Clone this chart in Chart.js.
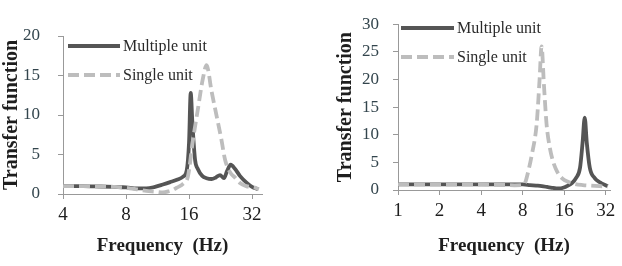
<!DOCTYPE html>
<html><head><meta charset="utf-8">
<script src="https://cdn.jsdelivr.net/npm/chart.js@4"></script>
<style>
html,body{margin:0;padding:0;background:#fff;}
#wrap{position:relative;width:622px;height:266px;overflow:hidden;background:#fff;}
canvas{position:absolute;top:0;}
</style></head><body>
<div id="wrap">
<canvas id="c1" width="311" height="266" style="left:0px"></canvas>
<canvas id="c2" width="311" height="266" style="left:311px"></canvas>
</div>
<script>
// ---- data ----
const seriesNames = ['Multiple unit', 'Single unit'];
const xTitle = 'Frequency  (Hz)';
const yTitle = 'Transfer function';

// left panel
const leftXTicks = [4, 8, 16, 32];
const leftMultiF = [4, 5, 6, 7, 8, 9, 10, 11, 12, 13, 14, 15, 15.6, 16.0, 16.3, 16.6, 17.1, 17.6, 18.5, 19.4, 20.5, 21.5, 22.5, 23.5, 24.3, 25.3, 26.5, 28, 30.2, 32, 34.2];
const leftMultiV = [1.0, 1.0, 0.95, 0.9, 0.85, 0.7, 0.7, 0.9, 1.2, 1.5, 1.8, 2.2, 3.0, 6.5, 12.8, 9.0, 4.3, 3.2, 2.3, 2.0, 1.9, 2.1, 2.4, 2.0, 2.9, 3.7, 3.2, 2.3, 1.4, 0.9, 0.6];
const leftSingleF = [4, 5, 6, 7, 8, 9, 10, 11, 12, 13, 13.4, 14, 15, 15.8, 16.7, 17.7, 18.6, 19.4, 20.5, 21.7, 22.8, 23.8, 25.2, 26.5, 28, 30, 33, 34.5];
const leftSingleV = [1.0, 1.0, 0.95, 0.9, 0.8, 0.6, 0.4, 0.3, 0.2, 0.4, 0.5, 0.8, 1.3, 2.2, 6.8, 11, 14.5, 16.3, 13, 9.8, 7, 4.3, 2.7, 2.1, 1.4, 1.0, 0.8, 0.6];

// right panel
const rightXTicks = [1, 2, 4, 8, 16, 32];
const rightMultiF = [1, 1.5, 2, 3, 4, 5, 6, 7, 8, 9, 10, 11, 12, 13, 14, 15, 16.1, 17, 18.1, 19.5, 20.8, 21.7, 22.5, 23.3, 24.5, 26.5, 29, 33];
const rightMultiV = [1.0, 1.0, 1.0, 1.0, 1.0, 1.0, 1.0, 1.0, 1.0, 0.9, 0.8, 0.7, 0.55, 0.4, 0.3, 0.3, 0.5, 0.8, 1.2, 2.2, 4.0, 8.5, 13.1, 8.5, 4.0, 2.2, 1.4, 0.7];
const rightSingleF = [1, 1.5, 2, 3, 4, 5, 6, 7, 8, 8.3, 8.8, 9.3, 10.1, 10.6, 10.96, 11.4, 11.9, 12.5, 13.3, 14.3, 15.6, 17, 19, 21.8, 25, 29, 33];
const rightSingleV = [1.0, 1.0, 1.0, 1.0, 1.0, 0.95, 0.9, 0.85, 0.9, 1.2, 3.5, 6.3, 12, 20, 26, 19, 12, 8, 5.1, 3.2, 2.0, 1.5, 1.1, 0.9, 0.8, 0.7, 0.6];

// ---- rendering ----
const SERIF = "'Liberation Serif', 'Times New Roman', serif";
const pts = (f, v) => f.map((x, i) => ({x: x, y: v[i]}));

const inlineLegend = {
  id: 'inlineLegend',
  afterDraw(chart, args, opts) {
    const ctx = chart.ctx;
    chart.data.datasets.forEach((ds, i) => {
      const y = opts.y + i * opts.gap;
      ctx.save();
      ctx.strokeStyle = ds.borderColor;
      ctx.lineWidth = ds.borderWidth;
      ctx.setLineDash(ds.borderDash || []);
      ctx.beginPath();
      ctx.moveTo(opts.x, y);
      ctx.lineTo(opts.x + opts.len, y);
      ctx.stroke();
      ctx.setLineDash([]);
      ctx.fillStyle = '#2a2a2a';
      ctx.font = opts.font;
      ctx.textBaseline = 'middle';
      ctx.fillText(ds.label, opts.x + opts.len + 3, y + 1);
      ctx.restore();
    });
  }
};

function makeChart(id, cfg) {
  return new Chart(document.getElementById(id), {
    type: 'line',
    data: {
      datasets: [
        {label: seriesNames[0], data: pts(cfg.mf, cfg.mv), borderColor: '#555555', borderWidth: 3.8,
         pointRadius: 0, cubicInterpolationMode: 'monotone', order: 2, fill: false},
        {label: seriesNames[1], data: pts(cfg.sf, cfg.sv), borderColor: '#bdbdbd', borderWidth: 3.8,
         borderDash: [11, 5], pointRadius: 0, cubicInterpolationMode: 'monotone', order: 1, fill: false}
      ]
    },
    options: {
      responsive: false, animation: false, devicePixelRatio: 1,
      layout: {padding: cfg.pad},
      plugins: {legend: {display: false}, tooltip: {enabled: false},
        inlineLegend: cfg.legend},
      scales: {
        x: {
          type: 'logarithmic', min: cfg.xmin, max: cfg.xmax,
          afterBuildTicks: s => { s.ticks = cfg.xticks.map(v => ({value: v})); },
          afterFit: s => { s.height = cfg.xh; },
          ticks: {callback: v => String(v), color: '#1e1e1e', padding: 5, maxRotation: 0, autoSkip: false,
                  font: {family: SERIF, size: 19}},
          grid: {display: true, drawOnChartArea: false, drawTicks: true, tickLength: 5, color: '#999'},
          border: {display: true, color: '#999'},
          title: {display: true, text: xTitle, color: '#1e1e1e', padding: {top: 0, bottom: 9},
                  font: {family: SERIF, size: 19, weight: 'bold'}}
        },
        y: {
          min: 0, max: cfg.ymax,
          afterFit: s => { s.width = cfg.yw; },
          ticks: {stepSize: 5, color: '#33454d', padding: cfg.ypad, font: {family: SERIF, size: 17}},
          grid: {display: true, drawOnChartArea: false, drawTicks: true, tickLength: 5, color: '#999'},
          border: {display: true, color: '#999'},
          title: {display: true, text: yTitle, color: '#1e1e1e', padding: {top: cfg.ytpad, bottom: 0},
                  font: {family: SERIF, size: 20, weight: 'bold'}}
        }
      }
    },
    plugins: [inlineLegend]
  });
}

makeChart('c1', {
  mf: leftMultiF, mv: leftMultiV, sf: leftSingleF, sv: leftSingleV,
  xmin: 4, xmax: 35.7, xticks: leftXTicks, ymax: 20,
  pad: {top: 36, right: 49, bottom: 0, left: 0}, xh: 72, yw: 63, ypad: 18, ytpad: 0,
  legend: {x: 68, y: 46, gap: 29, len: 52, font: '16px ' + SERIF}
});
makeChart('c2', {
  mf: rightMultiF, mv: rightMultiV, sf: rightSingleF, sv: rightSingleV,
  xmin: 1, xmax: 34.3, xticks: rightXTicks, ymax: 30,
  pad: {top: 15, right: 12, bottom: 0, left: 0}, xh: 76, yw: 87, ypad: 14, ytpad: 23,
  legend: {x: 90, y: 28, gap: 29, len: 53, font: '16px ' + SERIF}
});
</script>
</body></html>
